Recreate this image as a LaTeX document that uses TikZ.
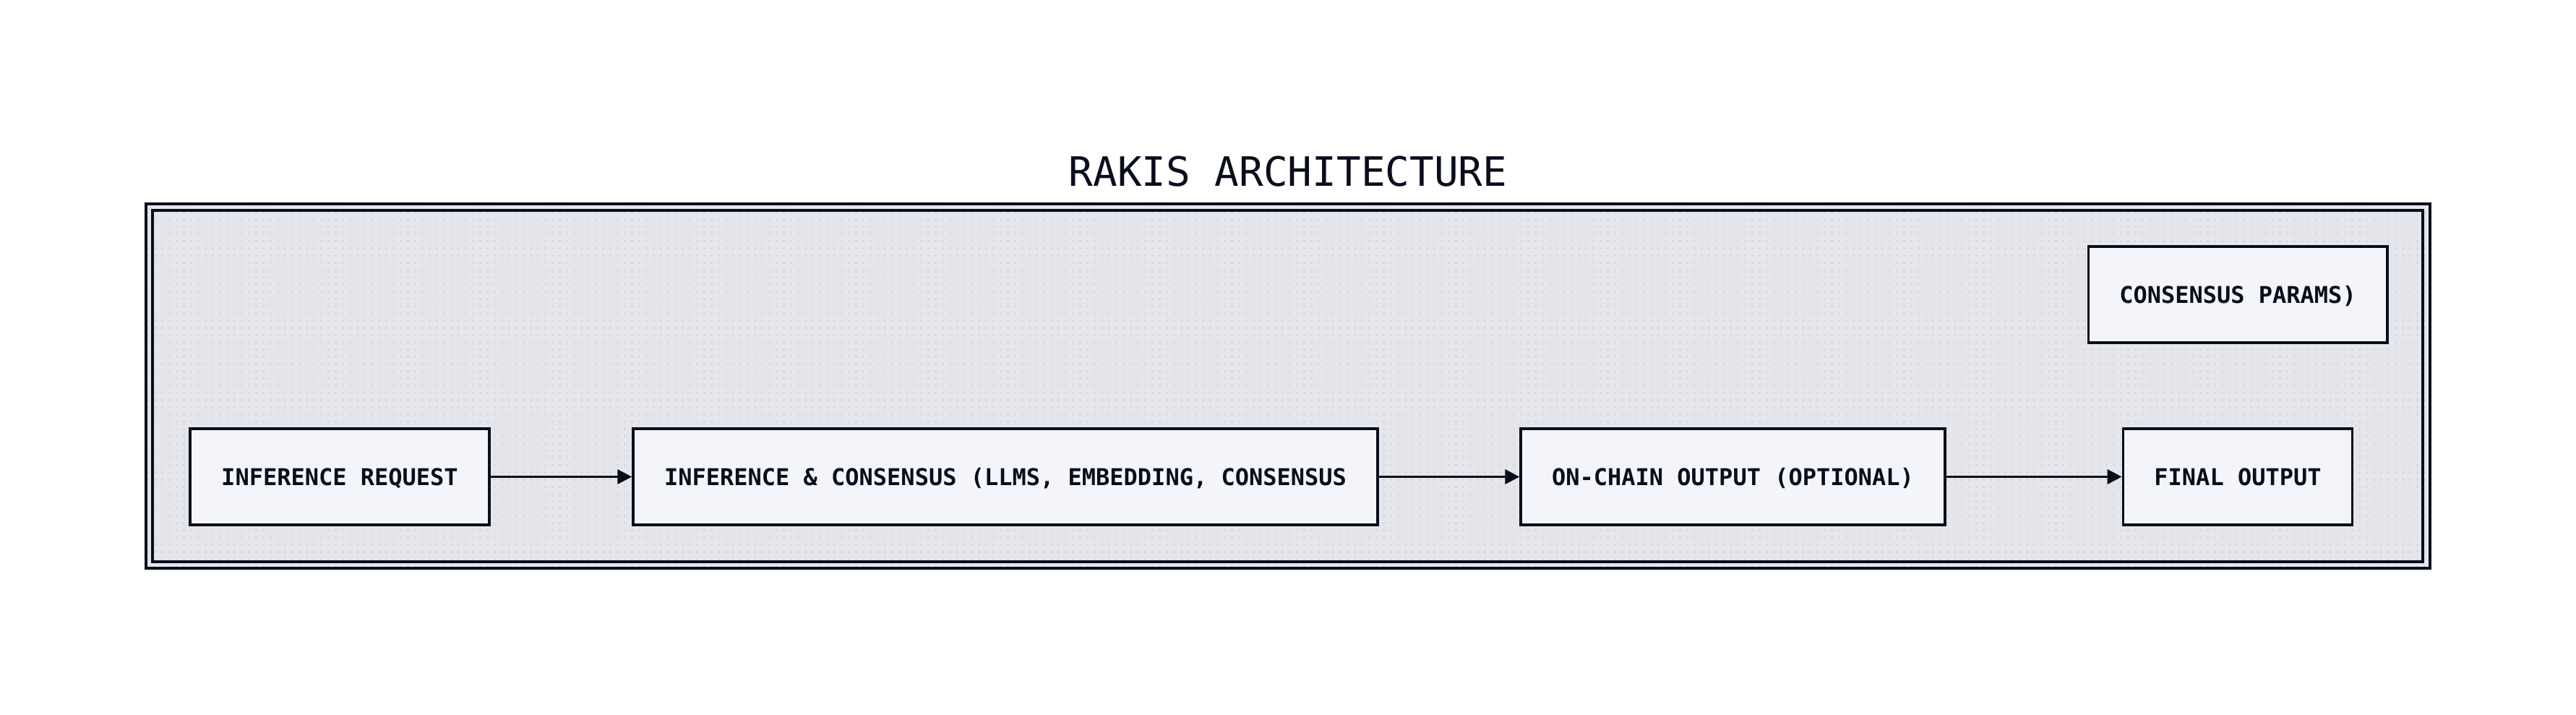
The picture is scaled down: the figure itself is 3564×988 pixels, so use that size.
\documentclass[tikz,border=0pt]{standalone}
\usepackage{fontspec}
\setmonofont{DejaVu Sans Mono}
\usetikzlibrary{arrows.meta,patterns.meta}

\definecolor{ink}{HTML}{0A0E1C}
\definecolor{frameFill}{HTML}{E5E6EC}
\definecolor{dotGray}{HTML}{C6C8D0}
\definecolor{boxFill}{HTML}{F4F5FA}

\tikzdeclarepattern{
  name=gridDots,
  type=uncolored,
  bounding box={(0pt,0pt) and (10pt,10pt)},
  tile size={(10pt,10pt)},
  code={\fill (4pt,4pt) rectangle (6pt,6pt);}
}

\tikzset{
  stage/.style={draw=ink, fill=boxFill, line width=3.5pt, rectangle,
    minimum height=133pt, inner xsep=43pt, text height=23pt, text depth=0pt,
    text=ink, font=\ttfamily\bfseries\fontsize{32}{38}\selectfont},
  flow/.style={draw=ink, line width=3.5pt, -{Triangle[length=20pt,width=20pt]}}
}

\begin{document}
\begin{tikzpicture}[x=1pt, y=-1pt]
    \useasboundingbox[fill=white] (0,0) rectangle (3564,988);
    % Title
    \node[text=ink, font=\ttfamily\fontsize{56}{66}\selectfont] (Title) at (1782,237) {RAKIS ARCHITECTURE};
    % Frame
    \fill[frameFill] (202,282) rectangle (3362,786);
    \fill[pattern=gridDots, pattern color=dotGray] (202,282) rectangle (3362,786);
    \draw[ink, line width=4pt] (202,282) rectangle (3362,786);
    \draw[ink, line width=3.5pt] (211,291) rectangle (3352,777);
    % Stages
    \foreach \x/\name/\i in {470/{INFERENCE REQUEST}/1,
        1391/{INFERENCE \& CONSENSUS (LLMS, EMBEDDING, CONSENSUS}/2,
        2397.5/{ON-CHAIN OUTPUT (OPTIONAL)}/3,
        3096/{FINAL OUTPUT}/4} {
        \node[stage] (Stage-\i) at (\x,659.5) {\name};
    }
    \node[stage] (Params) at (3096,407.5) {CONSENSUS PARAMS)};
    % Arrows
    \foreach \i/\j in {1/2,2/3,3/4} {
        \draw[flow] (Stage-\i) -- (Stage-\j);
    }
\end{tikzpicture}
\end{document}
